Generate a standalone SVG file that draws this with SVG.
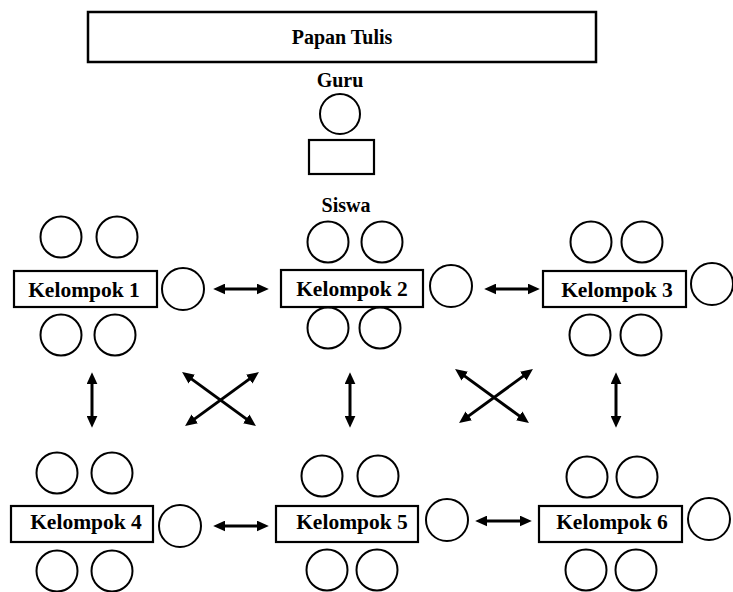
<svg xmlns="http://www.w3.org/2000/svg" width="733" height="592" viewBox="0 0 733 592">
<style>
.box{fill:#fff;stroke:#000;stroke-width:2.2}
.seat{fill:#fff;stroke:#000;stroke-width:2}
.t{font-family:"Liberation Serif","Times New Roman",serif;font-weight:bold;fill:#000;text-anchor:middle}
.lbl{font-size:20px}
.k{font-size:21.5px}
.arr{stroke:#000;stroke-width:3;fill:none;marker-start:url(#ah);marker-end:url(#ah)}
</style>
<defs>
<marker id="ah" markerUnits="userSpaceOnUse" markerWidth="12" markerHeight="11" refX="2" refY="5" orient="auto-start-reverse" viewBox="0 0 11 10">
<path d="M0,0 L11,5 L0,10 z" fill="#000"/>
</marker>
</defs>
<rect width="733" height="592" fill="#fff"/>
<g id="papan-tulis">
<rect class="box" x="88" y="12" width="508" height="50" style="stroke-width:2.5"/>
<text class="t lbl" x="342" y="44">Papan Tulis</text>
</g>
<g id="guru">
<text class="t lbl" x="340" y="87">Guru</text>
<circle class="seat" cx="340" cy="114" r="20"/>
<rect class="box" x="309" y="140" width="65" height="34"/>
</g>
<g id="siswa-label">
<text class="t lbl" x="346" y="212">Siswa</text>
</g>
<g id="kelompok-1">
<circle class="seat" cx="61" cy="237" r="20.5"/>
<circle class="seat" cx="117" cy="237" r="20.5"/>
<rect class="box" x="14" y="271" width="143" height="36"/>
<text class="t k" x="84" y="297">Kelompok 1</text>
<circle class="seat" cx="61" cy="335" r="20.5"/>
<circle class="seat" cx="115" cy="335" r="20.5"/>
<circle class="seat" cx="183" cy="289" r="21"/>
</g>
<g id="kelompok-2">
<circle class="seat" cx="328" cy="242" r="20.5"/>
<circle class="seat" cx="382" cy="242" r="20.5"/>
<rect class="box" x="281" y="270" width="142" height="37"/>
<text class="t k" x="352" y="296">Kelompok 2</text>
<circle class="seat" cx="328" cy="328" r="20.5"/>
<circle class="seat" cx="380" cy="328" r="20.5"/>
<circle class="seat" cx="451" cy="286" r="21"/>
</g>
<g id="kelompok-3">
<circle class="seat" cx="591" cy="242" r="20.5"/>
<circle class="seat" cx="642" cy="242" r="20.5"/>
<rect class="box" x="543" y="271" width="143" height="36"/>
<text class="t k" x="617" y="297">Kelompok 3</text>
<circle class="seat" cx="590" cy="335" r="20.5"/>
<circle class="seat" cx="641" cy="335" r="20.5"/>
<circle class="seat" cx="712" cy="284" r="21"/>
</g>
<g id="kelompok-4">
<circle class="seat" cx="57" cy="473" r="20.5"/>
<circle class="seat" cx="112" cy="473" r="20.5"/>
<rect class="box" x="11" y="506" width="142" height="36"/>
<text class="t k" x="86" y="529">Kelompok 4</text>
<circle class="seat" cx="57" cy="571" r="20.5"/>
<circle class="seat" cx="112" cy="571" r="20.5"/>
<circle class="seat" cx="180" cy="526" r="21"/>
</g>
<g id="kelompok-5">
<circle class="seat" cx="322" cy="476" r="20.5"/>
<circle class="seat" cx="378" cy="476" r="20.5"/>
<rect class="box" x="276" y="506" width="142" height="36"/>
<text class="t k" x="352" y="529">Kelompok 5</text>
<circle class="seat" cx="327" cy="570" r="20.5"/>
<circle class="seat" cx="377" cy="570" r="20.5"/>
<circle class="seat" cx="447" cy="520" r="21"/>
</g>
<g id="kelompok-6">
<circle class="seat" cx="587" cy="477" r="20.5"/>
<circle class="seat" cx="637" cy="477" r="20.5"/>
<rect class="box" x="539" y="506" width="143" height="36"/>
<text class="t k" x="612" y="529">Kelompok 6</text>
<circle class="seat" cx="586" cy="570" r="20.5"/>
<circle class="seat" cx="636" cy="570" r="20.5"/>
<circle class="seat" cx="709" cy="519" r="21"/>
</g>
<g id="connectors">
<line class="arr" x1="223" y1="289" x2="259" y2="289"/>
<line class="arr" x1="494" y1="289" x2="530" y2="289"/>
<line class="arr" x1="223" y1="526" x2="259" y2="526"/>
<line class="arr" x1="485" y1="521" x2="522" y2="521"/>
<line class="arr" x1="92" y1="382" x2="92" y2="418"/>
<line class="arr" x1="350" y1="382" x2="350" y2="418"/>
<line class="arr" x1="616" y1="382" x2="616" y2="418"/>
<line class="arr" x1="190" y1="377.9" x2="248" y2="420.1"/>
<line class="arr" x1="251" y1="377.9" x2="193" y2="420.1"/>
<line class="arr" x1="463" y1="374.9" x2="521" y2="417.1"/>
<line class="arr" x1="525" y1="374.9" x2="467" y2="417.1"/>
</g>
</svg>
